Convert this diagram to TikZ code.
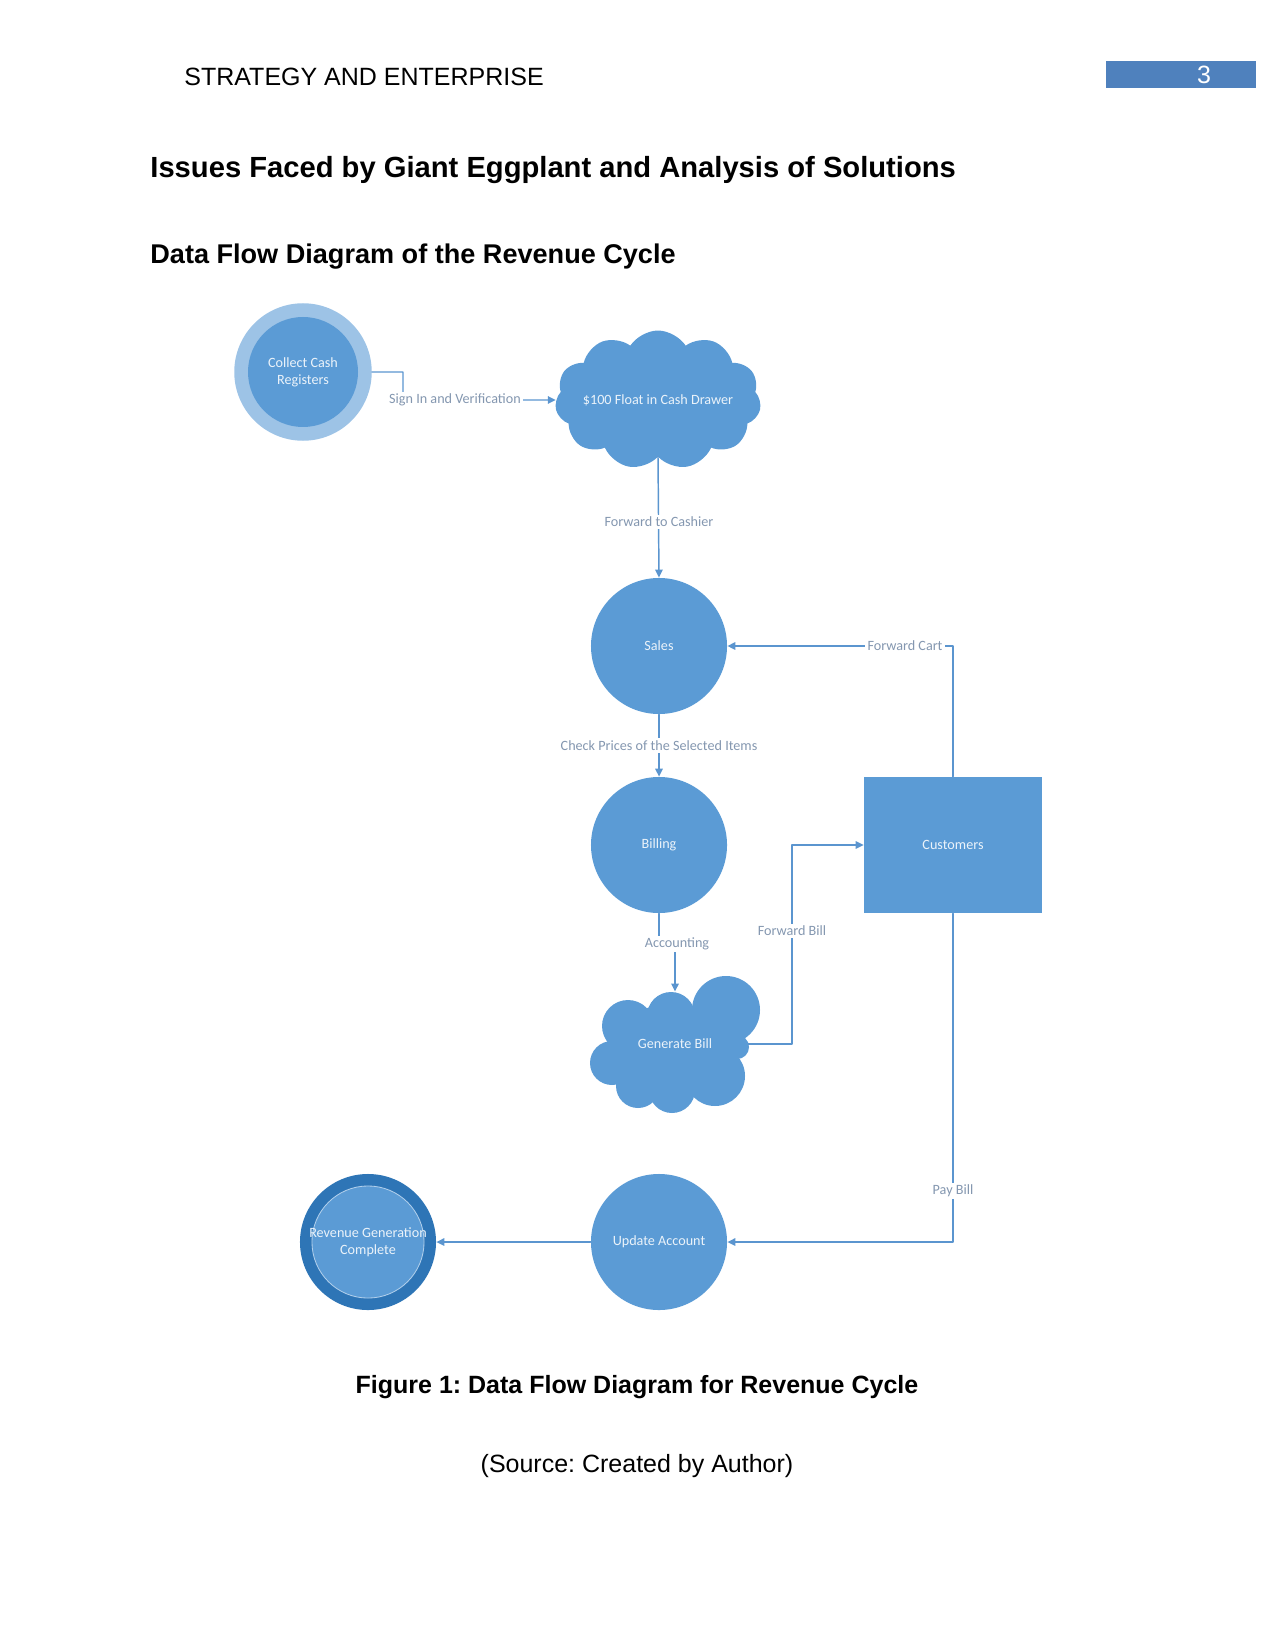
\documentclass[tikz,border=0pt]{standalone}
\usepackage{fontspec}
\setmainfont{Liberation Sans}
\newfontfamily\dfdfont{Carlito}
\usetikzlibrary{shapes.symbols,arrows.meta}
\definecolor{procblue}{HTML}{5B9BD5}
\definecolor{paleblue}{HTML}{9DC3E6}
\definecolor{deepblue}{HTML}{2E75B6}
\definecolor{lineblue}{HTML}{5B95CF}
\definecolor{lblgray}{HTML}{8497B0}
\definecolor{pageblue}{HTML}{4F81BD}
\frenchspacing
\begin{document}
\begin{tikzpicture}[x=0.48pt,y=-0.48pt,line cap=round,line join=round,
	dfdtext/.style={font=\dfdfont\fontsize{6.8}{8.2}\selectfont},
	proc/.style={circle,fill=procblue,text=white!88!procblue,inner sep=0pt,minimum size=65.3pt,align=center,dfdtext},
	ring/.style={circle,inner sep=0pt,minimum size=66pt},
	cloudy/.style={cloud,cloud puffs=11,cloud puff arc=115,fill=procblue,inner sep=0pt},
	cloudtext/.style={dfdtext,text=white!88!procblue},
	store/.style={rectangle,fill=procblue,text=white!88!procblue,minimum width=85.4pt,minimum height=65.3pt,dfdtext},
	flow/.style={draw=lineblue,line width=0.7pt,-{Triangle[length=3.8pt,width=3.6pt]}},
	lbl/.style={fill=white,text=lblgray,inner sep=1pt,dfdtext}]
\useasboundingbox (0,0) rectangle (1275,1650);
% page head
\node[anchor=west,inner sep=0pt,font=\fontsize{12}{14}\selectfont] (runhead) at (184,77) {STRATEGY AND ENTERPRISE};
\node[fill=pageblue,minimum width=72pt,minimum height=13pt,inner sep=0pt] (pagebox) at (1181,74.5) {};
\node[text=white,font=\fontsize{12}{14}\selectfont] (pagenum) at (1204,75) {3};
\node[anchor=west,inner sep=0pt,font=\bfseries\fontsize{14}{16}\selectfont] (title) at (150,170) {Issues Faced by Giant Eggplant and Analysis of Solutions};
\node[anchor=west,inner sep=0pt,font=\bfseries\fontsize{13}{15}\selectfont] (subtitle) at (150,257) {Data Flow Diagram of the Revenue Cycle};
% processes and stores
\node[ring,fill=paleblue] (collect) at (303,372) {};
\node[proc,minimum size=52.8pt] (collectin) at (303,372) {Collect Cash\\Registers};
\node[cloudy,minimum width=98.9pt,minimum height=66.7pt,
	label={[cloudtext]center:\$100 Float in Cash Drawer}] (float) at (658,400) {};
\node[proc] (sales) at (659,646) {Sales};
\node[proc] (billing) at (659,845) {Billing};
\node[store] (customers) at (953,845) {Customers};
% generate bill cloud, puff by puff
\fill[procblue] (673,1048) ellipse (62 and 44);
\fill[procblue] (726,1010) circle (34);
\fill[procblue] (671,1016) circle (24);
\fill[procblue] (628,1026) circle (26);
\fill[procblue] (612,1063) circle (22);
\fill[procblue] (638,1086) circle (22);
\fill[procblue] (672,1090) circle (23);
\fill[procblue] (715,1076) circle (30);
\fill[procblue] (737,1047) circle (12);
\node[cloudtext,minimum width=70pt,minimum height=50pt,inner sep=0pt] (genbill) at (675,1044) {Generate Bill};
\node[proc] (update) at (659,1242) {Update Account};
\node[ring,fill=deepblue,minimum size=65.3pt] (revenue) at (368,1242) {};
\node[proc,minimum size=53.8pt,draw=paleblue!80,line width=0.4pt,
	label={[dfdtext,text=white!88!procblue,align=center]center:Revenue Generation\\Complete}] (revenuein) at (368,1242) {};
% data flows
\coordinate (signbend) at (403,400);
\draw[flow] (collect.east) -| (signbend) -- (float.west);
\node[lbl] (signin) at (455,400) {Sign In and Verification};
\draw[flow] (float.south) -- (sales.north);
\node[lbl] (cashier) at (659,522) {Forward to Cashier};
\draw[flow] (customers.north) |- (sales.east);
\node[lbl] (fwdcart) at (905,646) {Forward Cart};
\draw[flow] (sales.south) -- node[lbl] (prices) {Check Prices of the Selected Items} (billing.north);
\draw[flow] (billing.south) -- (659,944) -| (genbill.north);
\node[lbl] (acct) at (677,944) {Accounting};
\draw[flow] (genbill.east) -| (792,900) |- (customers.west);
\node[lbl] (fwdbill) at (792,931) {Forward Bill};
\draw[flow] (customers.south) |- (update.east);
\node[lbl] (paybill) at (953,1191) {Pay Bill};
\draw[flow] (update.west) -- (revenue.east);
% caption
\node[font=\bfseries\fontsize{12}{14}\selectfont] (caption) at (637,1387) {Figure 1: Data Flow Diagram for Revenue Cycle};
\node[font=\fontsize{12}{14}\selectfont] (source) at (637,1466) {(Source: Created by Author)};
\end{tikzpicture}
\end{document}
